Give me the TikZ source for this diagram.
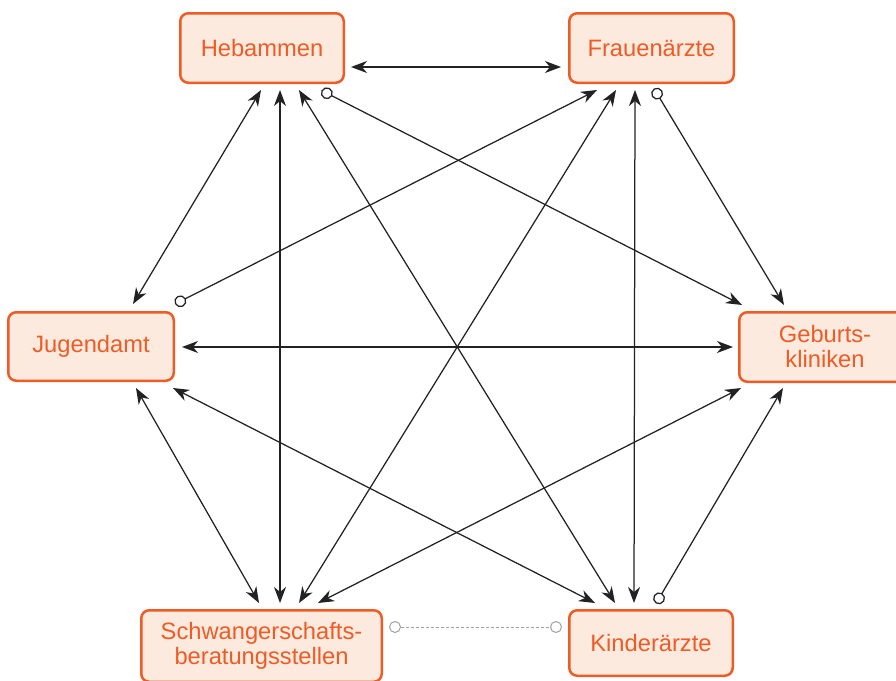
\documentclass[tikz,border=0pt]{standalone}
\usepackage{fontspec}
\setmainfont{Liberation Sans}
\usetikzlibrary{arrows.meta}
\definecolor{orng}{HTML}{EF5B25}
\definecolor{peach}{HTML}{FDEADE}
\definecolor{ink}{HTML}{222222}
\definecolor{pale}{HTML}{A0A0A0}
\begin{document}
\begin{tikzpicture}[x=1pt,y=-1pt,
  box/.style={draw=orng,fill=peach,line width=2.5pt,rounded corners=8pt,text=orng,
    font=\fontsize{23.7}{25}\selectfont,align=center,inner sep=0pt},
  link/.style={draw=ink,line width=1.25pt},
  both/.style={link,{Stealth[length=16pt,width=12pt,inset=5pt]}-{Stealth[length=16pt,width=12pt,inset=5pt]}},
  ringed/.style={link,{Circle[open,length=12pt,width=12pt]}-{Stealth[length=16pt,width=12pt,inset=5pt]}},
  dashlink/.style={draw=pale,line width=1pt,dash pattern=on 3pt off 2pt,{Circle[open,length=12pt,width=12pt]}-{Circle[open,length=12pt,width=12pt]}}
]
\useasboundingbox (0,0) rectangle (896,680);
\node[box,minimum width=163.5pt,minimum height=69.5pt] (heb) at (262,48) {Hebammen};
\node[box,minimum width=164.5pt,minimum height=69.5pt] (frau) at (651.5,48) {Frauenärzte};
\node[box,minimum width=165.5pt,minimum height=68.5pt] (jug) at (91,346.5) {Jugendamt};
\node[box,minimum width=171.5pt,minimum height=69.5pt] (geb) at (825,347) {Geburts-\\kliniken};
\node[box,minimum width=240.5pt,minimum height=71.5pt] (schw) at (261.5,646) {Schwangerschafts-\\beratungsstellen};
\node[box,minimum width=163.5pt,minimum height=65.5pt] (kind) at (651,643) {Kinderärzte};

% Hebammen
\draw[both] ([shift={(89,19)}]heb.center) -- ([shift={(-90.5,19)}]frau.center);
\draw[both] ([shift={(-1,42)}]heb.center) -- ([shift={(42,-42.5)}]jug.center);
\draw[both] ([shift={(18,42)}]heb.center) -- ([shift={(18.5,-43)}]schw.center);
\draw[both] ([shift={(37,42)}]heb.center) -- ([shift={(-36,-40)}]kind.center);
\draw[ringed] ([shift={(59.5,42.5)}]heb.center) -- ([shift={(-83,-42)}]geb.center);
% Frauenaerzte
\draw[ringed] ([shift={(84,-42.5)}]jug.center) -- ([shift={(-54.5,42)}]frau.center);
\draw[both] ([shift={(-35.5,42)}]frau.center) -- ([shift={(37.5,-43)}]schw.center);
\draw[both] ([shift={(-16.5,42)}]frau.center) -- ([shift={(-17,-40)}]kind.center);
\draw[ringed] ([shift={(2.5,40.5)}]frau.center) -- ([shift={(-41,-42)}]geb.center);
% Jugendamt
\draw[both] ([shift={(91,0.5)}]jug.center) -- ([shift={(-92,0)}]geb.center);
\draw[both] ([shift={(45,41.5)}]jug.center) -- ([shift={(-2.5,-43)}]schw.center);
\draw[both] ([shift={(82,41.5)}]jug.center) -- ([shift={(-56,-40)}]kind.center);
% Geburtskliniken
\draw[both] ([shift={(-84,41)}]geb.center) -- ([shift={(56.5,-43)}]schw.center);
\draw[ringed] ([shift={(5,-39.5)}]kind.center) -- ([shift={(-42,41)}]geb.center);
% dashed
\draw[dashlink] ([shift={(127.5,-19)}]schw.center) -- ([shift={(-89,-16)}]kind.center);
\end{tikzpicture}
\end{document}
